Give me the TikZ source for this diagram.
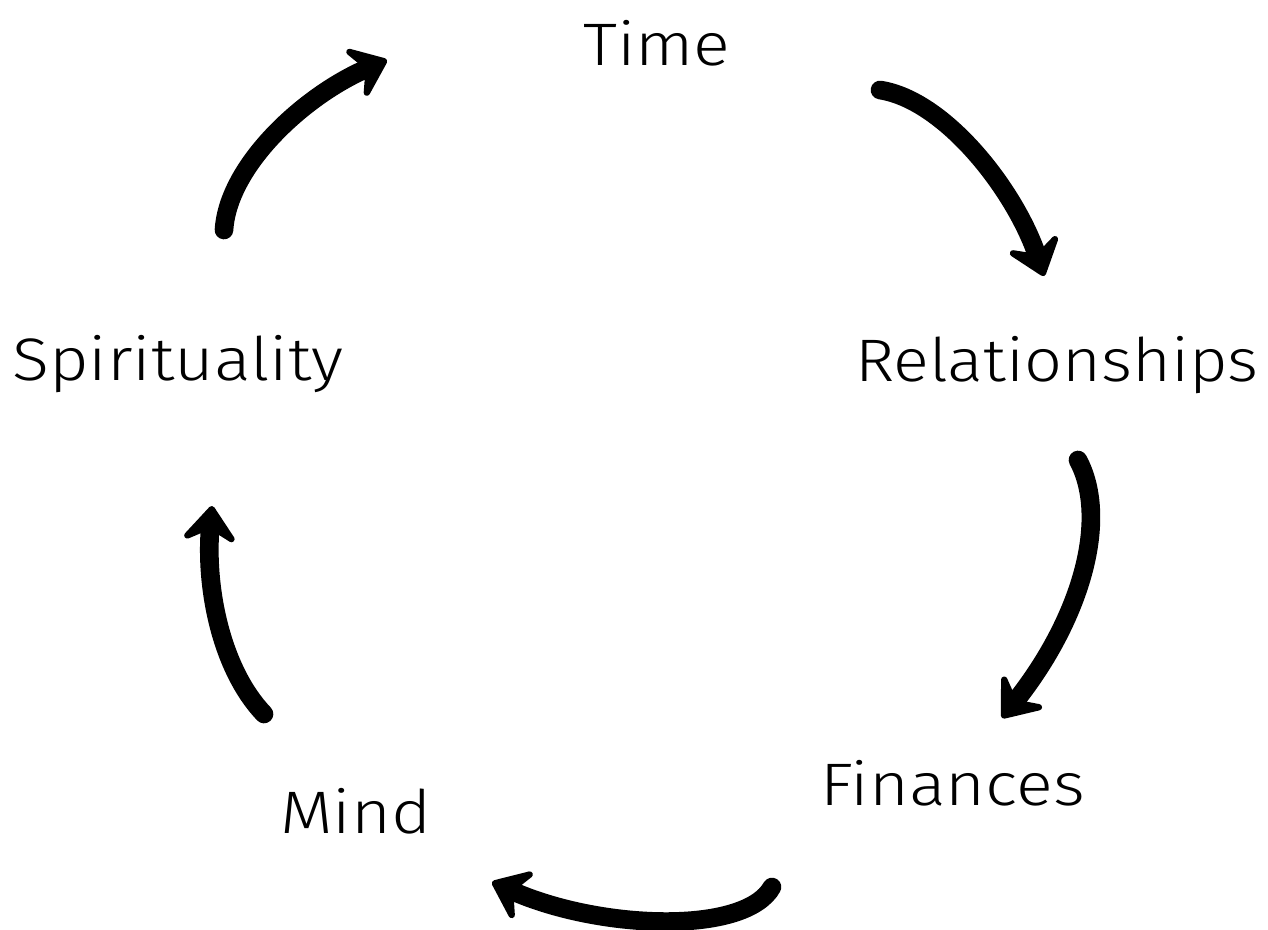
\documentclass[tikz,border=0pt]{standalone}
\usepackage{fontspec}
\setmainfont{Fira Sans Light}
\usetikzlibrary{arrows.meta}
\newcommand{\wide}[2][1.14]{\scalebox{#1}[1]{#2}}
\begin{document}
\begin{tikzpicture}[x=0.75pt,y=-0.75pt,
  lbl/.style={inner sep=0pt,anchor=base west,font=\fontsize{45}{50}\selectfont},
  cyc/.style={line width=14pt,line cap=round,-{Stealth[length=32pt,width=50pt,inset=13pt,round]}}]
\path[use as bounding box,fill=white] (0,0) rectangle (1268,929);
\node[lbl] (time) at (583,65) {\wide{Time}};
\node[lbl] (spir) at (12,380) {\wide{Spirituality}};
\node[lbl] (rel) at (855,381) {\wide[1.11]{Relationships}};
\node[lbl] (mind) at (280,833) {\wide{Mind}};
\node[lbl] (fin) at (820,805) {\wide{Finances}};
\coordinate (a1s) at (224,230); \coordinate (a1e) at (387,60);
\coordinate (a2s) at (880,90); \coordinate (a2e) at (1044,276);
\coordinate (a3s) at (1078,460); \coordinate (a3e) at (1002,718);
\coordinate (a4s) at (772,887); \coordinate (a4e) at (492,882);
\coordinate (a5s) at (264,714); \coordinate (a5e) at (212,506);
\draw[cyc] (a1s) .. controls (228,165) and (305,95) .. (a1e);
\draw[cyc] (a2s) .. controls (945,100) and (1015,190) .. (a2e);
\draw[cyc] (a3s) .. controls (1110,520) and (1080,620) .. (a3e);
\draw[cyc] (a4s) .. controls (745,935) and (600,930) .. (a4e);
\draw[cyc] (a5s) .. controls (222,670) and (205,590) .. (a5e);
\end{tikzpicture}
\end{document}
